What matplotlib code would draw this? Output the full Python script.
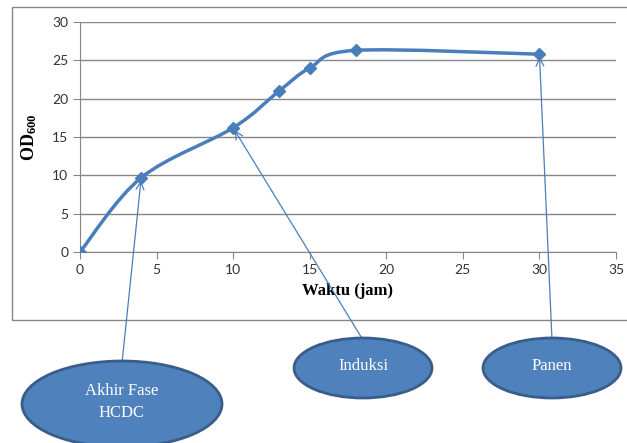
import matplotlib
matplotlib.use("Agg")
import numpy as np
from matplotlib import pyplot as plt
from matplotlib.path import Path
from matplotlib.patches import PathPatch, Ellipse, Rectangle

# OD600 growth curve
waktu = [0, 4, 10, 13, 15, 18, 30]
od600 = [0, 9.7, 16.2, 21.0, 24.0, 26.3, 25.8]

x_ticks = [0, 5, 10, 15, 20, 25, 30, 35]
y_ticks = [0, 5, 10, 15, 20, 25, 30]

# callouts: label, index of the point it marks, bubble centre/size in pixels
callouts = [
    ("Akhir Fase\nHCDC", 1, (122, 404), (200, 86)),
    ("Induksi", 2, (363, 368), (138, 60)),
    ("Panen", 6, (552, 368), (138, 60)),
]

BLUE = "#4A7EBB"
FILL = "#4F81BD"
EDGE = "#385D8A"
GRAY = "#868686"
SERIF = "Liberation Serif"


def smooth_path(xs, ys):
    # Catmull-Rom style bezier through the points
    pts = np.column_stack([xs, ys]).astype(float)
    verts = [pts[0]]
    codes = [Path.MOVETO]
    n = len(pts)
    for i in range(n - 1):
        p0 = pts[max(i - 1, 0)]
        p1 = pts[i]
        p2 = pts[i + 1]
        p3 = pts[min(i + 2, n - 1)]
        c1 = p1 + (p2 - p0) / 6.0
        c2 = p2 - (p3 - p1) / 6.0
        verts += [c1, c2, p2]
        codes += [Path.CURVE4] * 3
    return Path(verts, codes)


fig = plt.figure(figsize=(6.27, 4.43), dpi=100)
W, H = 627, 443
ax = fig.add_axes([80 / W, 1 - 252 / H, 536 / W, 230 / H])

ax.add_patch(PathPatch(smooth_path(waktu, od600), fill=False, edgecolor=BLUE,
                       lw=2.5, zorder=3, capstyle="round"))
ax.plot(waktu, od600, ls="none", marker="D", ms=6, color=BLUE, zorder=4)

ax.set_xlim(0, 35)
ax.set_ylim(0, 30)
ax.set_xticks(x_ticks)
ax.set_yticks(y_ticks)
ax.yaxis.grid(True, color=GRAY, lw=1)
ax.set_axisbelow(True)
for side in ["top", "right"]:
    ax.spines[side].set_visible(False)
for side in ["left", "bottom"]:
    ax.spines[side].set_color(GRAY)
ax.tick_params(direction="out", length=5, color=GRAY, labelsize=10,
               labelcolor="#333333")
for lab in ax.get_xticklabels() + ax.get_yticklabels():
    lab.set_family("Lato")

ax.set_xlabel("Waktu (jam)", family=SERIF, fontweight="bold", fontsize=12,
              labelpad=5)
ax.set_ylabel(r"$\mathregular{OD_{600}}$", family=SERIF, fontweight="bold",
              fontsize=13, labelpad=9)

# overlay in pixel units for the frame and callout bubbles
ov = fig.add_axes([0, 0, 1, 1], facecolor="none")
ov.set_xlim(0, W)
ov.set_ylim(H, 0)
ov.axis("off")
ov.add_patch(Rectangle((11.5, 6.5), 700, 313.5, fill=False, edgecolor=GRAY,
                       lw=1))

for label, idx, (cx, cy), (ew, eh) in callouts:
    ov.annotate("", xy=(waktu[idx], od600[idx]), xycoords=ax.transData,
                xytext=(cx, cy - eh / 2 + 2), textcoords="data",
                arrowprops=dict(arrowstyle="->", color=BLUE, lw=0.9,
                                shrinkA=0, shrinkB=2, mutation_scale=14))
    ov.add_patch(Ellipse((cx, cy), ew, eh, facecolor=FILL, edgecolor=EDGE,
                         lw=2, zorder=5))
    ov.text(cx, cy - 2, label, ha="center", va="center", color="white",
            family=SERIF, fontsize=12, linespacing=1.5, zorder=6)

fig.savefig("out.png", dpi=100)
